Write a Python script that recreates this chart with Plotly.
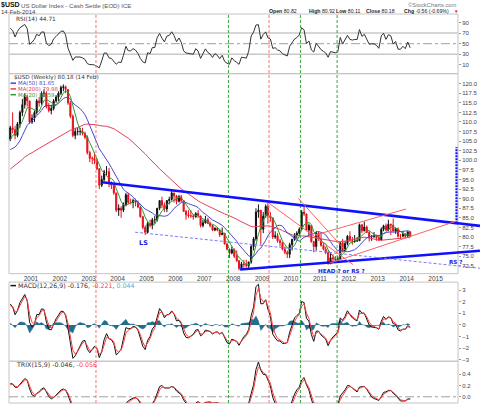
import numpy as np
import pandas as pd
import plotly.graph_objects as go

W, H = 480, 405
ML, MR, MT, MB = 9, 22, 14, 0
PW, PH = W - ML - MR, H - MT - MB


def px(xp):
    return (xp - ML) / PW


def py(yp):
    return (H - MB - yp) / PH


# ---------------- data (monthly) ----------------
warm_close = [86.0, 86.5, 87.5, 87.5, 88.0, 88.0,
              93.0, 95.0, 96.0, 98.0, 95.5, 97.0, 100.5, 99.0, 97.5, 96.5, 99.0, 99.7,
              100.0, 99.5, 101.0, 99.0, 99.5, 100.0, 99.5, 99.5, 93.5, 92.0, 95.0, 94.2,
              96.5, 99.5, 101.0, 101.5, 103.0, 103.5, 100.5, 101.5, 98.5, 98.5, 101.5, 101.9,
              104.5, 106.0, 105.5]

close = [108.5, 108, 106.5, 109.5, 112.5, 114.5, 116.5, 115.5, 110,
         111, 112.5, 115.5, 115, 117.5, 117.5, 114, 113, 113.5, 115.5, 116.5, 117.5,
         119, 119.2, 118.5, 115, 111.5, 106.5, 107.5, 107.5, 107.5, 107, 106, 102,
         100.5, 100.5, 100, 97.8, 93.5, 95, 97, 97, 94, 93.5, 91.5, 87,
         87.5, 87, 88.5, 91, 89, 89, 89.5, 89, 87.8, 85.3, 82.5, 81.2,
         83.5, 83, 84.5, 84.5, 87.5, 89.5, 88.3, 87.3, 89.5, 89.8, 91.5, 90.7,
         89.3, 90.5, 89.5, 86.7, 85.8, 85.5, 85.5, 85.3, 86.1, 85.5, 83, 83.7,
         84.5, 83.5, 83, 81.8, 82.3, 81.8, 80.6, 81, 78.2, 76.8, 75.8, 76.7,
         75, 73.8, 71.8, 73, 72.8, 72.5, 73.5, 77.5, 79.5, 86.5, 87, 82,
         85.5, 88, 85.5, 85, 80, 80.3, 79, 78.5, 76.8, 76, 75.5, 78,
         79.4, 80.5, 81, 82, 86.5, 86, 81.8, 83, 78.8, 77.5, 81, 79.5,
         77.8, 76.8, 75.9, 73, 74.6, 74.3, 74, 74.2, 78.5, 76.3, 78.3, 80.2,
         79, 78.8, 79, 79, 83.2, 81.6, 82.6, 81.2, 80, 80.1, 80.1, 79.8,
         79.2, 82, 82.9, 81.8, 83.3, 83.1, 81.5, 82.1, 80.2, 80.2, 80.7, 80.2,
         81.3, 80.18]

high = [109, 112.5, 109, 110, 113, 116, 117.5, 117, 115.5,
        112, 113, 116, 116.5, 118, 118.5, 118, 115, 114.5, 116, 117, 118,
        119.5, 119.8, 119.5, 118.5, 115.5, 112, 108.5, 108.5, 108.5, 108.5, 107.5, 106.5,
        102.5, 101, 102, 100.5, 98, 96, 97.5, 98.5, 98, 94.5, 94, 91.5,
        88.5, 88, 89, 91.5, 91.5, 90, 90, 90, 89.5, 88, 85.5, 83,
        84, 84.5, 85, 85.5, 87.5, 89.5, 90.5, 89, 89.5, 90.5, 92, 91.5,
        91, 91, 91, 89.5, 87, 87, 87, 86, 86.5, 87, 85.5, 84.5,
        85.5, 85, 84, 83, 82.5, 82.5, 82, 82.5, 81, 78.5, 77, 77.5,
        77, 76.5, 74, 73.5, 74, 74, 73.5, 78, 80, 87.5, 88.5, 87,
        86.5, 88.5, 89, 86.5, 85, 81.5, 81, 79.5, 78.5, 77.5, 76.5, 78.5,
        79.5, 81, 81.5, 82.5, 87, 88.5, 86, 83.5, 83, 79, 81.5, 81.5,
        81, 78.5, 77.5, 76.5, 76, 75.5, 75, 75, 78.5, 79.5, 79, 80.5,
        81.5, 80, 80.5, 80, 83.5, 83, 84, 83, 81.5, 80.5, 81.3, 80.6,
        80.5, 82.5, 83.2, 83.5, 84.5, 83.5, 84.8, 82.5, 82.5, 80.8, 81.5, 81,
        81.5, 81.5]

low = [105, 107, 105.5, 106, 108.5, 111.5, 113.5, 114, 109.5,
       109.5, 110, 112, 114, 114.5, 116.5, 113.5, 112.5, 112, 113, 115, 115.5,
       117, 118, 117.5, 114.5, 111, 106, 105.5, 106.5, 106.5, 106.5, 105.5, 101.5,
       99.5, 99, 99, 97.5, 92.5, 93, 94.5, 96, 93, 92.5, 91, 86.5,
       85.5, 85, 86.5, 88, 88.5, 88.5, 87.5, 88, 87.5, 85, 82, 80.5,
       81, 82.5, 82, 83.5, 84, 87, 87.5, 86.5, 86.5, 88.5, 89.5, 89,
       88.5, 89, 89, 86.5, 84.5, 85, 85, 84.5, 85, 85, 82.5, 82.5,
       83.5, 83.5, 82.5, 81.5, 81.5, 81.5, 80, 80.5, 78, 76.5, 74.5, 75.5,
       74.5, 73.5, 71.3, 71.5, 72, 72, 71.5, 73, 76.5, 79, 85, 78,
       81, 85, 83.5, 84, 79.5, 79.5, 78.5, 77.5, 76.5, 75.5, 74.5, 74.5,
       76.5, 79, 79.5, 80.5, 82, 85.5, 81.5, 80.5, 78.5, 76, 76.5, 79,
       77.5, 76.5, 75.5, 72.8, 73, 73.5, 73.5, 73.5, 74, 76, 76.5, 77.8,
       78.8, 78, 78.5, 78.8, 79, 81, 81.5, 81, 78.8, 79, 79.8, 79,
       79, 79.5, 81.5, 81.5, 81.5, 80.5, 81.5, 80.8, 79.8, 79.5, 80, 79.8,
       79.8, 80.1]

year_ticks = [str(y) for y in range(2001, 2016)]
price_ticks = [72.5 + 2.5 * i for i in range(20)]
rsi_ticks = [10, 30, 50, 70, 90]
macd_ticks = [-3, -2, -1, 0, 1, 2, 3]
trix_ticks = [0.0, 0.2, 0.4]

# event markers and drawn trendlines (date, price)
vlines = [("2003-04-03", "red"), ("2007-11-02", "green"), ("2009-03-29", "red"),
          ("2010-04-30", "green"), ("2011-08-06", "green")]
blue_lines = [("2003-06-20", 94.3, "2016-07-15", 82.9),
              ("2008-03-28", 71.5, "2016-07-15", 76.4)]
blue_dashed = [("2004-08-10", 81.25, "2016-07-15", 71.85)]
blue_target = [("2015-09-23", 83.6, "2015-09-23", 103.4)]
red_lines = [("2009-03-29", 88.8, "2012-02-24", 72.8),
             ("2010-04-02", 90.1, "2011-11-14", 76.6),
             ("2010-10-31", 80.5, "2013-12-24", 87.3),
             ("2011-05-08", 73.2, "2015-10-01", 84.2)]

X_RANGE = ["2000-03-30", "2015-10-12"]
P_RANGE = [70.43, 122.6]

# ---------------- derived indicator series ----------------
n_warm = len(warm_close)
allc = pd.Series(warm_close + close, dtype=float)
dates = pd.date_range("1996-07-01", periods=len(allc), freq="MS") + pd.Timedelta(days=14)
opens = [warm_close[-1]] + close[:-1]

ma20 = allc.rolling(5).mean()
ma50 = allc.rolling(12).mean()
ma200 = allc.rolling(46).mean()

delta = allc.diff()
gain = delta.clip(lower=0)
loss = -delta.clip(upper=0)
per = 6
ag = gain.ewm(alpha=1 / per, adjust=False).mean()
al = loss.ewm(alpha=1 / per, adjust=False).mean()
rsi = 100 - 100 / (1 + ag / al)

wk = 4.33
e12 = allc.ewm(span=12 / wk, adjust=False).mean()
e26 = allc.ewm(span=26 / wk, adjust=False).mean()
macd = e12 - e26
sig = macd.ewm(span=9 / wk, adjust=False).mean()
hist = macd - sig

sp = 15 / wk
t1 = allc.ewm(span=sp, adjust=False).mean()
t2 = t1.ewm(span=sp, adjust=False).mean()
t3 = t2.ewm(span=sp, adjust=False).mean()
trix = t3.pct_change() * 100 / wk
trix_sig = trix.ewm(span=9 / wk, adjust=False).mean()

d = dates[n_warm:]
sl = slice(n_warm, None)

FONT = "DejaVu Sans"
LIB = "Liberation Sans"
RED = "#e8101a"
fig = go.Figure()

fig.add_trace(go.Scatter(x=d, y=rsi[sl], mode="lines", line=dict(color="#333333", width=1),
                         xaxis="x", yaxis="y"))
fig.add_trace(go.Scatter(x=d, y=ma200[sl], mode="lines", line=dict(color="#e2405c", width=1),
                         xaxis="x", yaxis="y2"))
fig.add_trace(go.Scatter(x=d, y=ma50[sl], mode="lines", line=dict(color="#4848d0", width=1),
                         xaxis="x", yaxis="y2"))
fig.add_trace(go.Scatter(x=d, y=ma20[sl], mode="lines", line=dict(color="#2f9a2f", width=1),
                         xaxis="x", yaxis="y2"))
fig.add_trace(go.Candlestick(x=d, open=opens, high=high, low=low, close=close,
                             increasing=dict(line=dict(color="#111111", width=1), fillcolor="#111111"),
                             decreasing=dict(line=dict(color=RED, width=1), fillcolor=RED),
                             whiskerwidth=0, xaxis="x", yaxis="y2"))
fig.add_trace(go.Scatter(x=d, y=hist[sl], mode="lines", fill="tozeroy", fillcolor="#236e8e",
                         line=dict(color="#236e8e", width=0.5), xaxis="x", yaxis="y3"))
fig.add_trace(go.Scatter(x=d, y=macd[sl], mode="lines", line=dict(color="#111111", width=1),
                         xaxis="x", yaxis="y3"))
fig.add_trace(go.Scatter(x=d, y=sig[sl], mode="lines", line=dict(color="#ff4040", width=1),
                         xaxis="x", yaxis="y3"))
fig.add_trace(go.Scatter(x=d, y=trix[sl], mode="lines", line=dict(color="#111111", width=1),
                         xaxis="x", yaxis="y4"))
fig.add_trace(go.Scatter(x=d, y=trix_sig[sl], mode="lines", line=dict(color="#ff4040", width=1),
                         xaxis="x", yaxis="y4"))

tickfont = dict(family=LIB, size=6, color="#444444")
yax = dict(side="right", anchor="x", showgrid=False, zeroline=False, ticks="outside",
           ticklen=2, tickcolor="#999999", tickfont=tickfont, fixedrange=True)

MAIN_DOM = [py(275), py(74)]
fig.update_layout(
    width=W, height=H, margin=dict(l=ML, r=MR, t=MT, b=MB, pad=0),
    paper_bgcolor="white", plot_bgcolor="white", showlegend=False,
    xaxis=dict(type="date", range=X_RANGE, anchor="y2",
               tickvals=[f"{y}-01-01" for y in year_ticks], ticktext=year_ticks,
               showgrid=False, zeroline=False, ticks="", showline=False,
               tickfont=dict(family=LIB, size=6.5, color="#444444"),
               rangeslider=dict(visible=False)),
    yaxis=dict(domain=[py(74), 1], range=[-6.4, 105.8], tickvals=rsi_ticks, **yax),
    yaxis2=dict(domain=MAIN_DOM, range=P_RANGE, tickvals=price_ticks,
                tickformat=".1f", **yax),
    yaxis3=dict(domain=[py(363), py(283.5)], range=[-3.12, 3.68], tickvals=macd_ticks, **yax),
    yaxis4=dict(domain=[0, py(363)], range=[-0.11, 0.63], tickvals=trix_ticks,
                tickformat=".1f", **yax),
)

shapes = []
for (top, bot) in [(14, 74), (74, 275), (283.5, 363), (363, 405)]:
    shapes.append(dict(type="rect", xref="paper", yref="paper", x0=0, x1=1, y0=py(bot), y1=py(top),
                       line=dict(color="#c4c4c4", width=1), layer="below"))
for v, dash, col, wdt in [(70, "solid", "#c8c8c8", 1.5), (30, "solid", "#c8c8c8", 1.5),
                          (50, "dashdot", "#a0a0a0", 1)]:
    shapes.append(dict(type="line", xref="paper", yref="y", x0=0, x1=1, y0=v, y1=v,
                       line=dict(color=col, width=wdt, dash=dash), layer="below"))
shapes.append(dict(type="line", xref="paper", yref="y4", x0=0, x1=1, y0=0, y1=0,
                   line=dict(color="#a0a0a0", width=1, dash="dashdot"), layer="below"))
for xd, c in vlines:
    col = "#ff7070" if c == "red" else "#3aa83a"
    shapes.append(dict(type="line", xref="x", yref="paper", x0=xd, x1=xd, y0=0, y1=1,
                       line=dict(color=col, width=1, dash="3px,2px")))

T0, T1 = pd.Timestamp(X_RANGE[0]), pd.Timestamp(X_RANGE[1])


def xpaper(ds):
    return (pd.Timestamp(ds) - T0) / (T1 - T0)


def ypaper(p):
    return MAIN_DOM[0] + (p - P_RANGE[0]) / (P_RANGE[1] - P_RANGE[0]) * (MAIN_DOM[1] - MAIN_DOM[0])


def add_line(a, b, c_, e, line, extend=False):
    shapes.append(dict(type="line", xref="x", yref="y2", x0=a, y0=b, x1=c_, y1=e, line=line))
    if extend:
        xa, ya, xb, yb = xpaper(a), ypaper(b), xpaper(c_), ypaper(e)
        if xb > 1:
            ys = ya + (yb - ya) * (1 - xa) / (xb - xa)
            shapes.append(dict(type="line", xref="paper", yref="paper", x0=1, y0=ys, x1=xb, y1=yb,
                               line=line))


for (a, b, c_, e) in blue_lines:
    add_line(a, b, c_, e, dict(color="#1010ff", width=2.6), extend=True)
for (a, b, c_, e) in blue_dashed:
    add_line(a, b, c_, e, dict(color="#7a7aff", width=1, dash="3px,2px"), extend=True)
for (a, b, c_, e) in blue_target:
    add_line(a, b, c_, e, dict(color="#1010ff", width=2.2, dash="2px,1px"))
for (a, b, c_, e) in red_lines:
    add_line(a, b, c_, e, dict(color="#ff6060", width=1))

for yy, col in [(83.5, "#4848d0"), (89.3, "#e2405c"), (95.1, "#2f9a2f"), (287, "#111111")]:
    shapes.append(dict(type="line", xref="paper", yref="paper", x0=px(10.5), x1=px(16),
                       y0=py(yy), y1=py(yy), line=dict(color=col, width=1.5)))
fig.update_layout(shapes=shapes)

ann = []


def txt(x, y, s, size=6, color="#333333", anchor="left", family=FONT, bold=False):
    if bold:
        s = "<b>" + s + "</b>"
    ann.append(dict(xref="paper", yref="paper", x=px(x), y=py(y), text=s, showarrow=False,
                    xanchor=anchor, yanchor="middle", borderpad=0,
                    font=dict(family=family, size=size, color=color)))


txt(0, 5, "$USD", size=7, color="#111111", bold=True, family=LIB)
txt(20, 5.5, "US Dollar Index - Cash Settle (EOD) ICE", size=6.1, color="#555555", family=LIB)
txt(458, 4.5, "©StockCharts.com", size=5.8, color="#777777", anchor="right", family=LIB)
txt(0, 12.3, "14-Feb-2014", size=6, color="#444444", family=LIB)
for xx, lab, val in [(268, "Open", "80.82"), (308, "High", "80.92"), (335, "Low", "80.11"),
                     (365, "Close", "80.18"), (403, "Chg", "-0.56 (-0.69%)")]:
    txt(xx, 11, f"<b>{lab}</b> {val}", size=5.2, color="#222222", family=LIB)
txt(456, 11, "▼", size=4.5, color="#e00000", anchor="center", family=LIB)
txt(15, 18.7, "RSI(14) 44.71", size=5.8, color="#333333")
txt(13, 77.6, "$USD (Weekly) 80.18 (14 Feb)", size=5.6, color="#333333")
txt(17, 83.5, "MA(50) 81.65", size=5.4, color="#4848d0")
txt(17, 89.3, "MA(200) 79.98", size=5.4, color="#e2405c")
txt(17, 95.1, "MA(20) 80.59", size=5.4, color="#2f9a2f")
txt(17, 287,
    "MACD(12,26,9) -0.176, <span style='color:#ff4040'>-0.221</span>, "
    "<span style='color:#5aaad8'>0.044</span>", size=6.3, color="#333333")
txt(15, 366, "TRIX(15,9) -0.046, <span style='color:#ff4040'>-0.056</span>", size=6.3,
    color="#333333")
txt(143, 244, "LS", size=6.5, color="#2020e0", anchor="center", bold=True)
txt(341, 272.5, "HEAD ? or RS ?", size=5.6, color="#2020e0", anchor="center", bold=True)
txt(456, 263.5, "RS ?", size=5.6, color="#2020e0", anchor="center", bold=True)
fig.update_layout(annotations=ann)

fig.write_html("out.html")
